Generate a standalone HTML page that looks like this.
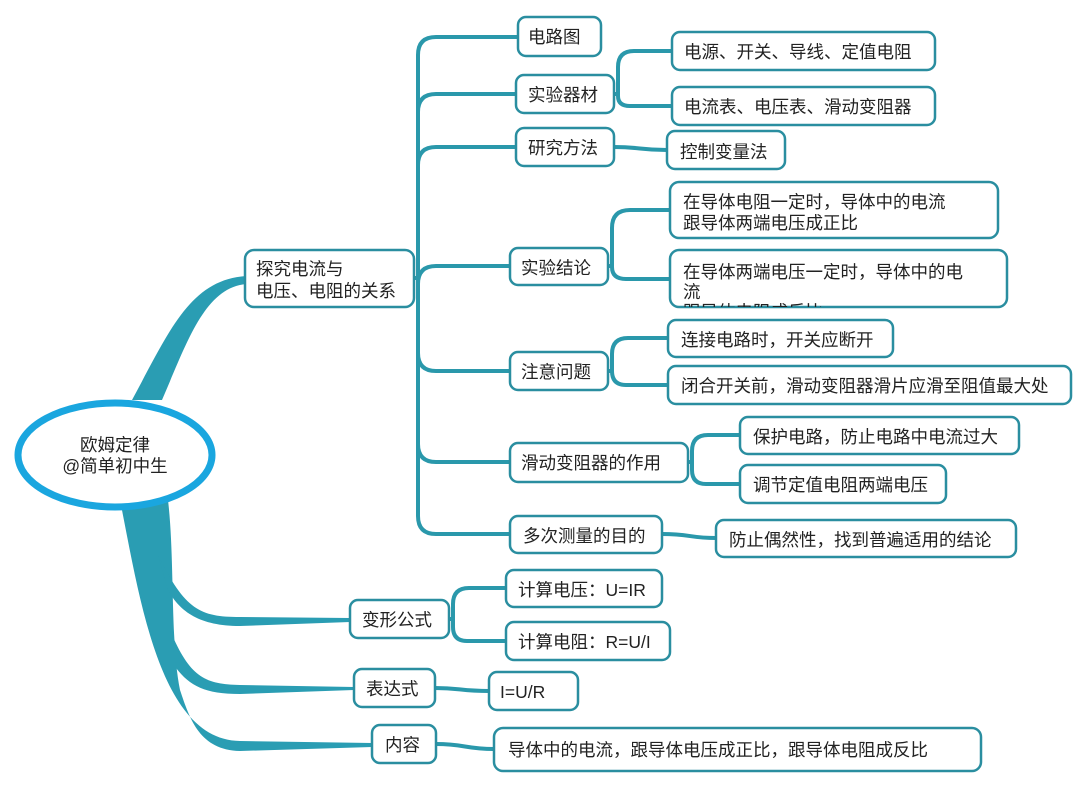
<!DOCTYPE html>
<html><head><meta charset="utf-8"><style>
html,body{margin:0;padding:0;background:#fff;}
svg{display:block;}
text{font-family:"Liberation Sans","Noto Sans CJK SC",sans-serif;font-size:17.5px;fill:#222;}
.b{fill:#fff;stroke:#2a8ea0;stroke-width:2.5;}
.l{fill:none;stroke:#2a98ab;stroke-width:4;}
.t{fill:#2a9db3;}
</style></head><body>
<svg width="1080" height="795" viewBox="0 0 1080 795">
<defs><clipPath id="c2"><rect x="670" y="250" width="337" height="57" rx="9"/></clipPath></defs>
<!-- thick branches -->
<path class="t" d="M132,400 C170,330 190,280 246,276 L246,284 C205,288 188,340 162,400 Z"/>
<path class="t" d="M120,500 C140,600 160,740 240,741 L372,743 L372,747 L240,751 C200,750 190,720 180,690 C170,640 175,560 168,500 Z"/>
<path class="t" d="M158,555 C185,610 200,617 240,617 L350,618 L350,622 L240,626 C200,626 180,612 168,590 Z"/>
<path class="t" d="M170,630 C190,678 205,684 240,685 L354,687 L354,690 L240,694 C205,694 190,686 176,668 Z"/>
<!-- main spine -->
<g class="l">
<path d="M414,278 H418 V55 Q418,37 436,37 H518"/>
<path d="M418,278 V112 Q418,94 436,94 H516"/>
<path d="M418,278 V165 Q418,147 436,147 H516"/>
<path d="M414,278 H418 V284 Q418,266 436,266 H510"/>
<path d="M418,278 V353 Q418,371 436,371 H510"/>
<path d="M418,278 V444 Q418,462 436,462 H510"/>
<path d="M418,278 V516 Q418,534 436,534 H510"/>
<path d="M614,94 H618 V67 Q618,51 634,51 H672"/>
<path d="M614,94 H618 V96 Q618,106 630,106 H672"/>
<path d="M614,147 C640,147 640,150 667,150"/>
<path d="M608,266 H612 V228 Q612,210 630,210 H670"/>
<path d="M608,266 H612 V267 Q612,279 626,279 H670"/>
<path d="M608,371 H612 V354 Q612,338 628,338 H668"/>
<path d="M608,371 H612 V371 Q612,385 626,385 H668"/>
<path d="M688,462 H692 V451 Q692,435 708,435 H740"/>
<path d="M688,462 H692 V470 Q692,484 706,484 H740"/>
<path d="M662,534 C690,534 690,538 716,538"/>
<path d="M449,619 H453 V604 Q453,588 469,588 H506"/>
<path d="M449,619 H453 V627 Q453,641 467,641 H506"/>
<path d="M435,688 C460,688 460,691 489,691"/>
<path d="M436,744 C465,744 465,749 494,749"/>
</g>
<!-- ellipse -->
<ellipse cx="115" cy="455" rx="97" ry="52" fill="#fff" stroke="#1aa6df" stroke-width="7"/>
<text x="115" y="451" text-anchor="middle">欧姆定律</text>
<text x="115" y="472" text-anchor="middle">@简单初中生</text>
<!-- nodes -->
<rect class="b" x="245" y="250" width="169" height="57" rx="9"/>
<text x="256" y="275">探究电流与</text><text x="256" y="297">电压、电阻的关系</text>
<rect class="b" x="518" y="17" width="83" height="39" rx="8"/><text x="528" y="43">电路图</text>
<rect class="b" x="516" y="75" width="98" height="38" rx="8"/><text x="528" y="101">实验器材</text>
<rect class="b" x="672" y="32" width="263" height="38" rx="8"/><text x="684" y="58">电源、开关、导线、定值电阻</text>
<rect class="b" x="672" y="87" width="263" height="38" rx="8"/><text x="684" y="113">电流表、电压表、滑动变阻器</text>
<rect class="b" x="516" y="128" width="98" height="38" rx="8"/><text x="528" y="154">研究方法</text>
<rect class="b" x="667" y="131" width="118" height="38" rx="8"/><text x="680" y="158">控制变量法</text>
<rect class="b" x="510" y="248" width="98" height="37" rx="8"/><text x="521" y="274">实验结论</text>
<rect class="b" x="670" y="182" width="328" height="56" rx="9"/>
<text x="683" y="208">在导体电阻一定时，导体中的电流</text><text x="683" y="229">跟导体两端电压成正比</text>
<rect class="b" x="670" y="250" width="337" height="57" rx="9"/>
<g clip-path="url(#c2)"><text x="683" y="278">在导体两端电压一定时，导体中的电</text><text x="683" y="298">流</text><text x="683" y="318">跟导体电阻成反比</text></g>
<rect class="b" x="510" y="352" width="98" height="38" rx="8"/><text x="521" y="378">注意问题</text>
<rect class="b" x="668" y="320" width="225" height="37" rx="8"/><text x="681" y="346">连接电路时，开关应断开</text>
<rect class="b" x="668" y="366" width="403" height="38" rx="8"/><text x="681" y="392">闭合开关前，滑动变阻器滑片应滑至阻值最大处</text>
<rect class="b" x="510" y="443" width="178" height="39" rx="8"/><text x="521" y="469">滑动变阻器的作用</text>
<rect class="b" x="740" y="417" width="279" height="37" rx="8"/><text x="753" y="443">保护电路，防止电路中电流过大</text>
<rect class="b" x="740" y="465" width="206" height="38" rx="8"/><text x="753" y="491">调节定值电阻两端电压</text>
<rect class="b" x="510" y="516" width="152" height="37" rx="8"/><text x="523" y="542">多次测量的目的</text>
<rect class="b" x="716" y="520" width="300" height="37" rx="8"/><text x="729" y="546">防止偶然性，找到普遍适用的结论</text>
<rect class="b" x="350" y="600" width="99" height="38" rx="8"/><text x="362" y="626">变形公式</text>
<rect class="b" x="506" y="570" width="156" height="37" rx="8"/><text x="518" y="596">计算电压：U=IR</text>
<rect class="b" x="506" y="622" width="164" height="38" rx="8"/><text x="518" y="648">计算电阻：R=U/I</text>
<rect class="b" x="354" y="669" width="81" height="38" rx="8"/><text x="366" y="695">表达式</text>
<rect class="b" x="489" y="672" width="89" height="38" rx="8"/><text x="500" y="698">I=U/R</text>
<rect class="b" x="372" y="725" width="64" height="38" rx="8"/><text x="385" y="751">内容</text>
<rect class="b" x="494" y="728" width="487" height="43" rx="9"/><text x="508" y="756">导体中的电流，跟导体电压成正比，跟导体电阻成反比</text>
</svg>
</body></html>
